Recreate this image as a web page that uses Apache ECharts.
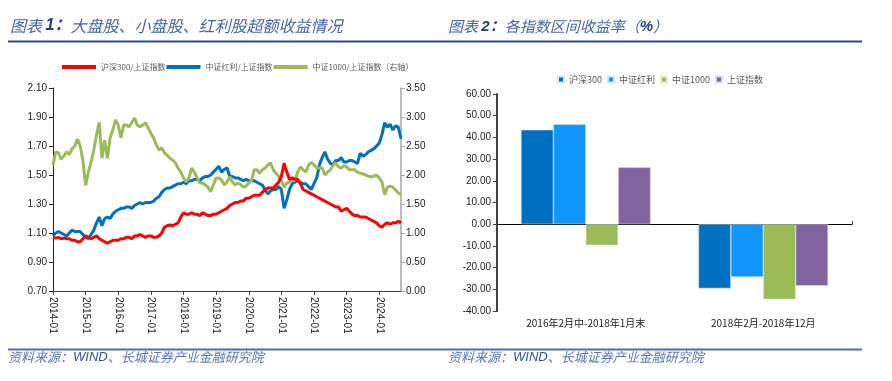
<!DOCTYPE html>
<html><head><meta charset="utf-8">
<script src="https://cdn.jsdelivr.net/npm/echarts@6/dist/echarts.min.js"></script>
<style>html,body{margin:0;padding:0;background:#fff}#c{width:892px;height:381px}</style>
</head><body><div id="c"></div>
<script>
// ---- Chart 1 data: monthly, 2014-01 .. 2024-09 ----
const startYear = 2014, monthCount = 129;
const months = [];
for (let i = 0; i < monthCount; i++) {
  const y = startYear + Math.floor(i / 12), m = (i % 12) + 1;
  months.push(y + '-' + (m < 10 ? '0' + m : m));
}
const hs300Ratio = [
  1.07,1.065,1.07,1.06,1.065,1.06,1.06,1.05,1.05,1.04,1.04,1.06,
  1.08,1.07,1.06,1.07,1.08,1.06,1.05,1.04,1.03,1.04,1.05,1.05,
  1.05,1.06,1.06,1.07,1.07,1.06,1.08,1.08,1.09,1.08,1.07,1.08,
  1.08,1.07,1.07,1.08,1.10,1.14,1.15,1.155,1.15,1.16,1.17,1.21,
  1.24,1.23,1.23,1.24,1.23,1.23,1.22,1.24,1.23,1.22,1.22,1.23,
  1.23,1.24,1.25,1.26,1.27,1.29,1.30,1.31,1.31,1.32,1.32,1.34,
  1.34,1.35,1.36,1.36,1.36,1.38,1.40,1.41,1.41,1.41,1.43,1.45,
  1.49,1.58,1.52,1.47,1.48,1.47,1.47,1.44,1.40,1.39,1.38,1.37,
  1.36,1.35,1.34,1.33,1.32,1.31,1.30,1.29,1.28,1.28,1.25,1.26,
  1.27,1.25,1.23,1.22,1.22,1.21,1.21,1.21,1.20,1.19,1.18,1.17,
  1.15,1.14,1.16,1.17,1.16,1.17,1.17,1.18,1.17
];
const dividendRatio = [
  1.08,1.10,1.11,1.10,1.09,1.08,1.10,1.12,1.11,1.11,1.11,1.09,
  1.07,1.06,1.09,1.12,1.17,1.21,1.15,1.20,1.21,1.20,1.23,1.25,
  1.26,1.27,1.27,1.28,1.28,1.27,1.29,1.30,1.31,1.30,1.31,1.31,
  1.31,1.32,1.34,1.35,1.38,1.40,1.41,1.41,1.42,1.43,1.44,1.44,
  1.45,1.44,1.46,1.46,1.47,1.47,1.46,1.48,1.49,1.49,1.50,1.52,
  1.54,1.56,1.52,1.54,1.55,1.49,1.49,1.48,1.48,1.47,1.46,1.47,
  1.46,1.46,1.46,1.45,1.44,1.43,1.40,1.37,1.39,1.40,1.40,1.42,
  1.40,1.27,1.33,1.40,1.44,1.45,1.46,1.45,1.44,1.44,1.42,1.40,
  1.44,1.48,1.57,1.62,1.66,1.61,1.58,1.57,1.60,1.60,1.62,1.59,
  1.59,1.60,1.60,1.59,1.58,1.65,1.63,1.64,1.66,1.67,1.68,1.70,
  1.72,1.78,1.86,1.83,1.85,1.81,1.84,1.83,1.75
];
const csi1000Ratio = [
  2.17,2.40,2.38,2.27,2.33,2.40,2.35,2.45,2.50,2.62,2.50,2.25,
  1.82,2.05,2.22,2.43,2.69,2.91,2.29,2.60,2.29,2.64,2.78,2.95,
  2.86,2.64,2.86,2.86,2.83,2.91,2.98,2.86,2.83,2.86,2.90,2.81,
  2.72,2.64,2.52,2.43,2.47,2.38,2.34,2.29,2.26,2.21,2.12,2.05,
  1.95,1.88,1.95,2.12,2.05,1.95,1.86,1.86,1.83,1.79,1.71,1.83,
  1.95,1.95,1.91,1.83,1.88,1.97,1.88,1.83,1.86,1.84,1.79,1.81,
  1.86,1.91,2.09,2.09,2.03,2.09,2.12,2.17,2.21,2.09,2.03,1.98,
  1.91,1.79,1.86,1.88,1.91,1.91,2.05,2.14,2.09,2.05,2.17,2.22,
  2.17,2.12,2.12,2.12,2.00,2.05,2.09,2.16,2.21,2.14,2.12,2.16,
  2.14,2.09,2.09,2.09,2.05,2.03,2.02,2.00,1.98,1.97,1.98,2.00,
  1.95,1.88,1.66,1.79,1.81,1.79,1.74,1.69,1.66
];
const leftTicks = {min: 0.7, max: 2.1, interval: 0.2};
const rightTicks = {min: 0, max: 3.5, interval: 0.5};

// ---- Chart 2 data ----
const periods = ['2016年2月中-2018年1月末', '2018年2月-2018年12月'];
const hs300Ret = [43.5, -29.6];
const dividendRet = [46.1, -24.3];
const csi1000Ret = [-9.7, -34.6];
const shIndexRet = [26.2, -28.4];
const barTicks = {min: -40, max: 60, interval: 10};

const lineNames = ['沪深300/上证指数', '中证红利/上证指数', '中证1000/上证指数（右轴）'];
const barNames = ['沪深300', '中证红利', '中证1000', '上证指数'];

const FONT = '"Liberation Sans", Arial, "Noto Sans CJK SC", sans-serif';
const CJK = '"Noto Sans CJK SC", "Liberation Sans", sans-serif';
const isJan = (idx, val) => String(val).endsWith('-01');

const chart = echarts.init(document.getElementById('c'), null, {renderer: 'canvas'});
chart.setOption({
  animation: false,
  textStyle: {fontFamily: FONT},
  grid: [
    {left: 53, right: 491, top: 88, bottom: 90},
    {left: 497, right: 40, top: 94, bottom: 70}
  ],
  legend: [
    {data: lineNames, left: 57, top: 58, itemWidth: 34, itemHeight: 4, itemGap: 1, icon: 'rect',
     textStyle: {fontSize: 8, color: '#595959', fontFamily: CJK}},
    {data: barNames, left: 552, top: 70, itemWidth: 6, itemHeight: 6, itemGap: 5, icon: 'rect',
     textStyle: {fontSize: 9, color: '#595959', fontFamily: CJK}}
  ],
  xAxis: [
    {type: 'category', gridIndex: 0, data: months, boundaryGap: false,
     axisLine: {lineStyle: {color: '#404040', width: 1}},
     axisTick: {interval: isJan, length: 4, lineStyle: {color: '#404040'}},
     axisLabel: {interval: isJan, rotate: -90, fontSize: 10, color: '#222', margin: 6}},
    {type: 'category', gridIndex: 1, data: periods, position: 'bottom',
     axisLine: {show: false, onZero: false}, axisTick: {show: false},
     axisLabel: {fontSize: 10, color: '#222', margin: 7, fontFamily: CJK}},
    {type: 'category', gridIndex: 1, data: periods,
     axisLine: {onZero: true, lineStyle: {color: '#000', width: 1.2}},
     axisTick: {show: true, length: 3, lineStyle: {color: '#333'}},
     axisLabel: {show: false}}
  ],
  yAxis: [
    {type: 'value', gridIndex: 0, position: 'left', min: leftTicks.min, max: leftTicks.max, interval: leftTicks.interval,
     axisLine: {show: true, lineStyle: {color: '#222', width: 1}},
     axisTick: {show: true, length: 4, lineStyle: {color: '#222'}},
     splitLine: {show: false},
     axisLabel: {fontSize: 10, color: '#222', margin: 6, formatter: v => v.toFixed(2)}},
    {type: 'value', gridIndex: 0, position: 'right', min: rightTicks.min, max: rightTicks.max, interval: rightTicks.interval,
     axisLine: {show: true, lineStyle: {color: '#A6A6A6', width: 1.5}},
     axisTick: {show: true, length: 4, lineStyle: {color: '#A6A6A6'}},
     splitLine: {show: false},
     axisLabel: {fontSize: 10, color: '#222', margin: 5, formatter: v => v.toFixed(2)}},
    {type: 'value', gridIndex: 1, min: barTicks.min, max: barTicks.max, interval: barTicks.interval,
     axisLine: {show: true, lineStyle: {color: '#404040', width: 2}},
     axisTick: {show: true, length: 4, lineStyle: {color: '#404040'}},
     splitLine: {show: false},
     axisLabel: {fontSize: 10, color: '#222', margin: 6, formatter: v => v.toFixed(2)}}
  ],
  series: [
    {name: lineNames[0], type: 'line', xAxisIndex: 0, yAxisIndex: 0, data: hs300Ratio, showSymbol: false, symbol: 'none',
     lineStyle: {color: '#FF0000', width: 3}, itemStyle: {color: '#FF0000'}, z: 3},
    {name: lineNames[1], type: 'line', xAxisIndex: 0, yAxisIndex: 0, data: dividendRatio, showSymbol: false, symbol: 'none',
     lineStyle: {color: '#0070C0', width: 3}, itemStyle: {color: '#0070C0'}, z: 2},
    {name: lineNames[2], type: 'line', xAxisIndex: 0, yAxisIndex: 1, data: csi1000Ratio, showSymbol: false, symbol: 'none',
     lineStyle: {color: '#9BBB59', width: 3}, itemStyle: {color: '#9BBB59'}, z: 2},
    {name: barNames[0], type: 'bar', xAxisIndex: 1, yAxisIndex: 2, data: hs300Ret, barGap: '0%', barCategoryGap: '27%',
     itemStyle: {color: '#0070C0', borderColor: '#D6E6F5', borderWidth: 0.5}},
    {name: barNames[1], type: 'bar', xAxisIndex: 1, yAxisIndex: 2, data: dividendRet, barGap: '0%', barCategoryGap: '27%',
     itemStyle: {color: '#1197FB', borderColor: '#D6E6F5', borderWidth: 0.5}},
    {name: barNames[2], type: 'bar', xAxisIndex: 1, yAxisIndex: 2, data: csi1000Ret, barGap: '0%', barCategoryGap: '27%',
     itemStyle: {color: '#9BBB59', borderColor: '#E3ECD3', borderWidth: 0.5}},
    {name: barNames[3], type: 'bar', xAxisIndex: 1, yAxisIndex: 2, data: shIndexRet, barGap: '0%', barCategoryGap: '27%',
     itemStyle: {color: '#8064A2', borderColor: '#E0D8EA', borderWidth: 0.5}}
  ],
  graphic: [
    {type: 'text', left: 10, top: 18, style: {
      text: '{a|图表 }{b|1：}{a|大盘股、小盘股、红利股超额收益情况}',
      rich: {
        a: {fontFamily: CJK, fontSize: 16, fontStyle: 'italic', fill: '#4264AE'},
        b: {fontFamily: FONT, fontSize: 16, fontStyle: 'italic', fontWeight: 'bold', fill: '#1F3C88'}
      }}},
    {type: 'text', left: 448, top: 19, style: {
      text: '{a|图表 }{b|2：}{a|各指数区间收益率（}{b|%}{a|）}',
      rich: {
        a: {fontFamily: CJK, fontSize: 15, fontStyle: 'italic', fill: '#4264AE'},
        b: {fontFamily: FONT, fontSize: 15, fontStyle: 'italic', fontWeight: 'bold', fill: '#1F3C88'}
      }}},
    {type: 'line', shape: {x1: 8, y1: 41.5, x2: 446, y2: 41.5}, style: {stroke: '#2A4A93', lineWidth: 2}},
    {type: 'line', shape: {x1: 446, y1: 41.5, x2: 862, y2: 41.5}, style: {stroke: '#2A4A93', lineWidth: 2}},
    {type: 'line', shape: {x1: 8, y1: 349.5, x2: 862, y2: 349.5}, style: {stroke: '#4A6DB5', lineWidth: 2}},
    {type: 'text', left: 8, top: 351, style: {
      text: '{a|资料来源：}{b|WIND}{a|、长城证券产业金融研究院}',
      rich: {
        a: {fontFamily: CJK, fontSize: 13, fontStyle: 'italic', fill: '#5A76AE'},
        b: {fontFamily: FONT, fontSize: 13, fontStyle: 'italic', fill: '#2F4F9A'}
      }}},
    {type: 'text', left: 448, top: 351, style: {
      text: '{a|资料来源：}{b|WIND}{a|、长城证券产业金融研究院}',
      rich: {
        a: {fontFamily: CJK, fontSize: 13, fontStyle: 'italic', fill: '#5A76AE'},
        b: {fontFamily: FONT, fontSize: 13, fontStyle: 'italic', fill: '#2F4F9A'}
      }}}
  ]
});
</script></body></html>
